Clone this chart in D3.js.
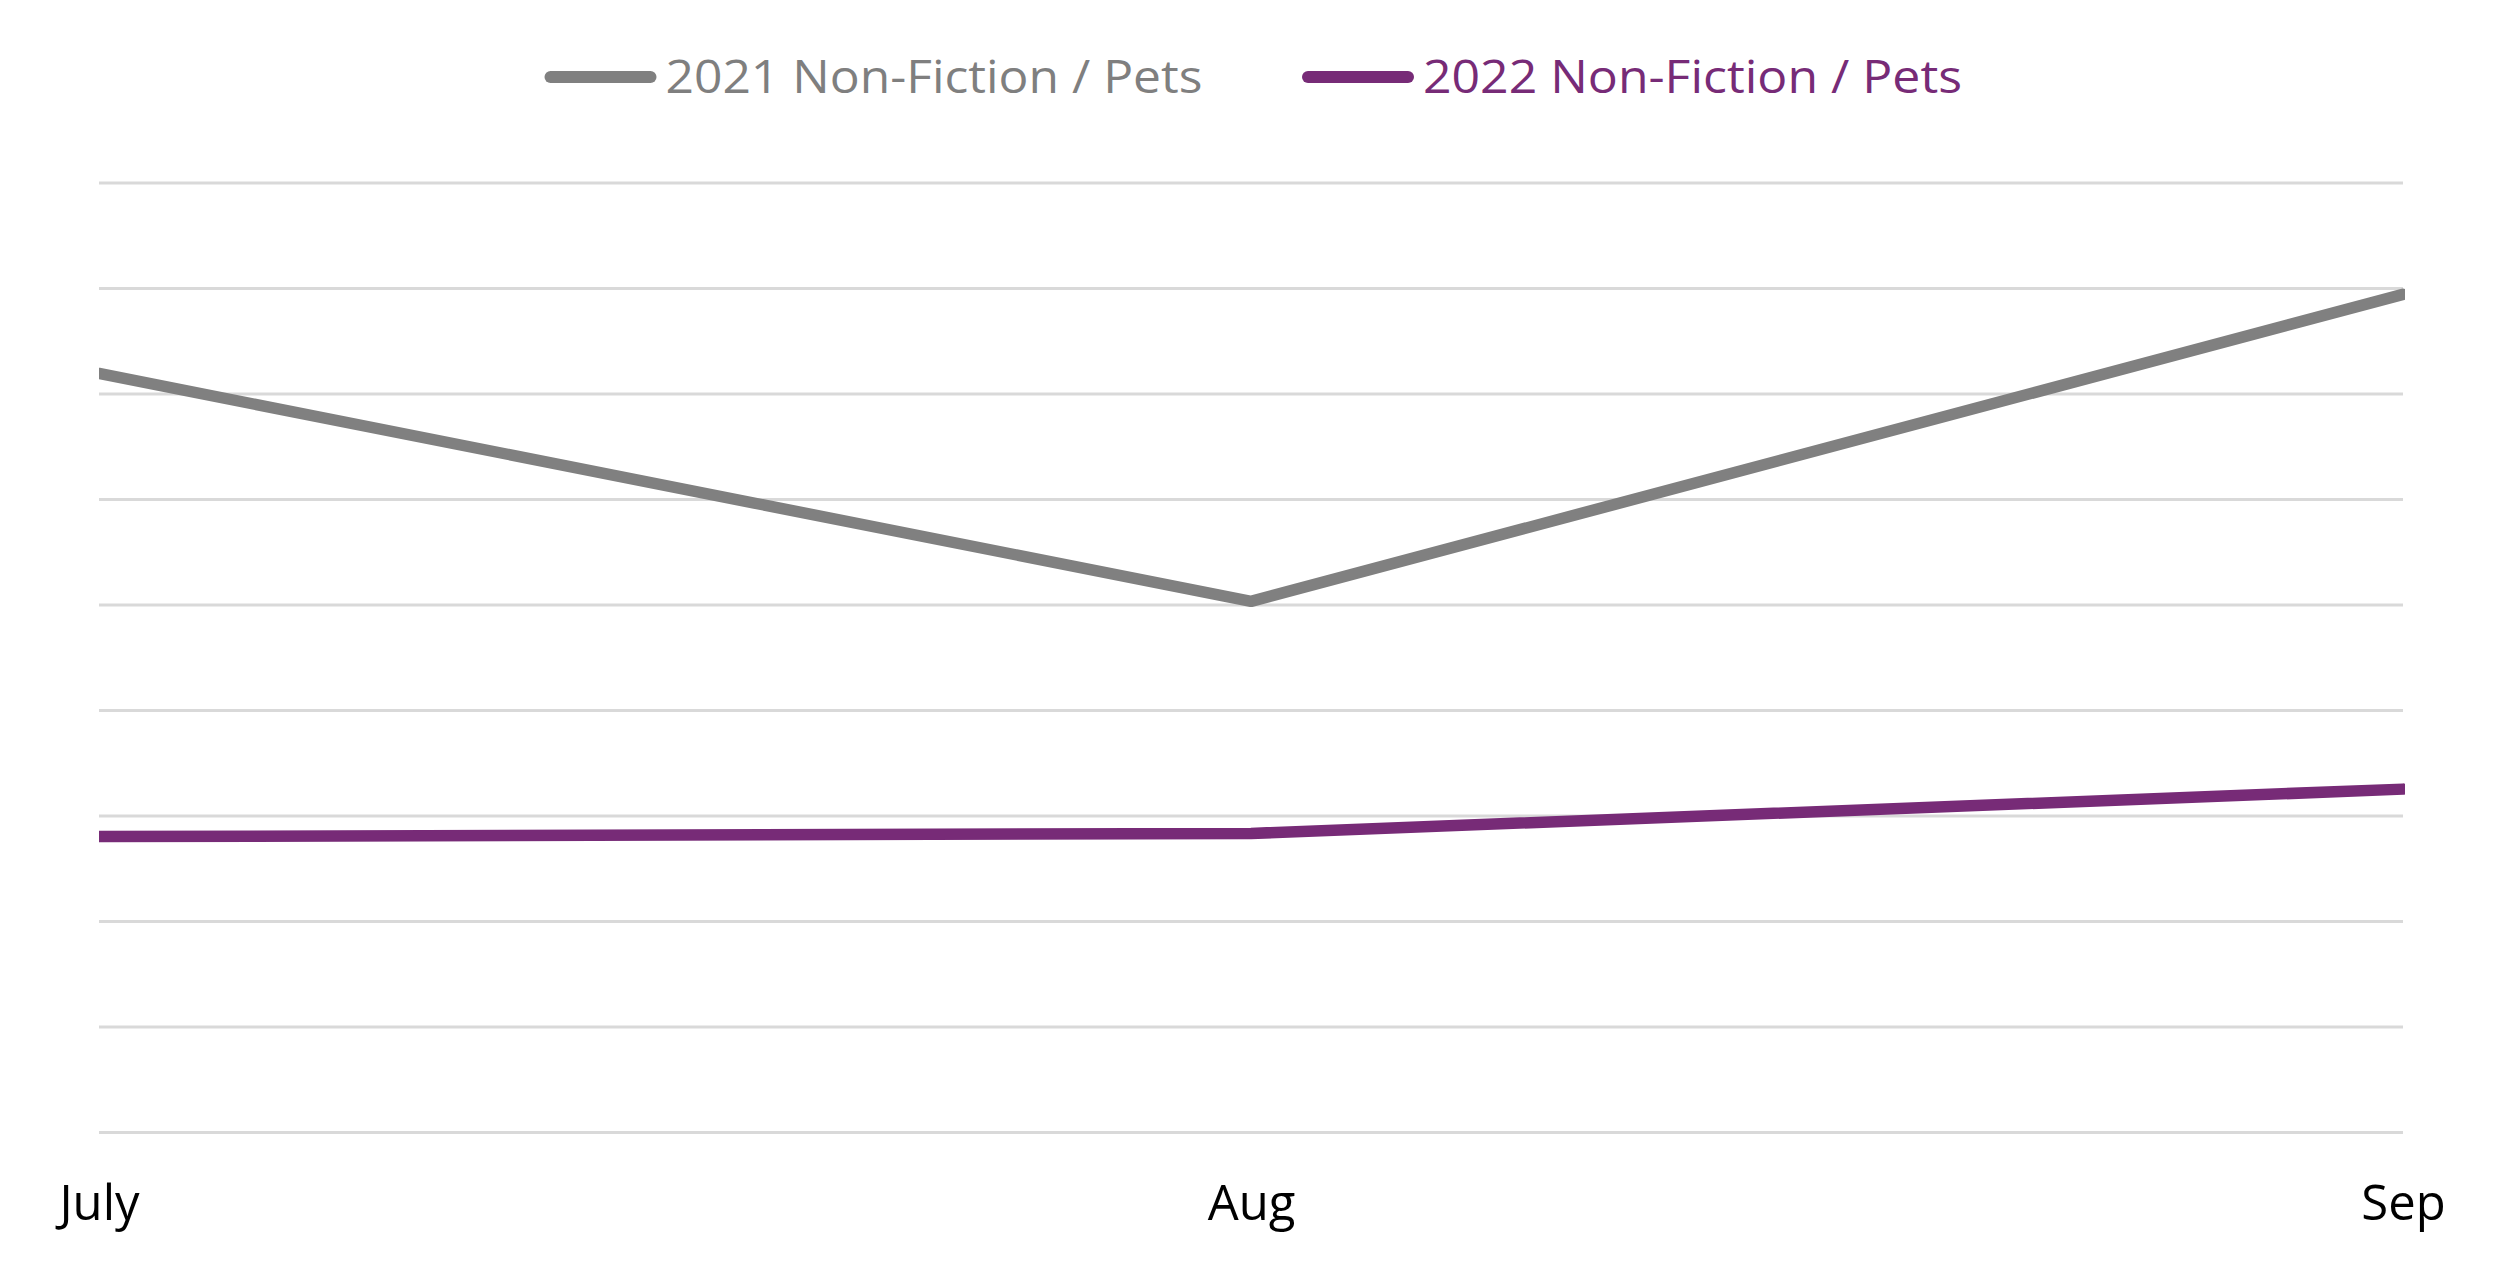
<!DOCTYPE html>
<html>
<head>
<meta charset="utf-8">
<script src="https://cdn.jsdelivr.net/npm/d3@7"></script>
<style>
  html, body { margin: 0; padding: 0; background: #ffffff; }
  svg { display: block; }
</style>
</head>
<body>
<svg id="chart" width="2500" height="1266"></svg>
<script>
// ---- data ----
const months = ["July", "Aug", "Sep"];
const series2021 = [7.19, 5.03, 7.94];
const series2022 = [2.80, 2.83, 3.25];
const seriesNames = ["2021 Non-Fiction / Pets", "2022 Non-Fiction / Pets"];
const gridTicks = [0, 1, 2, 3, 4, 5, 6, 7, 8, 9];

(function () {
  // ---- layout ----
  const W = 2500, H = 1266;
  const plotLeft = 99, plotRight = 2403, plotTop = 182.5, plotBottom = 1132;
  const colors = ["#808080", "#772B77"];
  const FONT = "'Open Sans', 'Noto Sans', sans-serif";

  const svg = d3.select("#chart");

  const x = d3.scalePoint().domain(months).range([plotLeft, plotRight]);
  const y = d3.scaleLinear().domain([0, 9]).range([plotBottom, plotTop]);

  // gridlines
  svg.append("g")
    .attr("transform", `translate(${plotLeft},0)`)
    .call(d3.axisLeft(y).tickValues(gridTicks).tickSize(-(plotRight - plotLeft)).tickFormat(""))
    .call(g => g.select(".domain").remove())
    .call(g => g.selectAll(".tick line").attr("stroke", "#d9d9d9").attr("stroke-width", 3));

  // x axis labels
  const xAxis = svg.append("g")
    .attr("transform", `translate(0,${plotBottom})`)
    .call(d3.axisBottom(x).tickSize(0))
    .call(g => g.select(".domain").remove());
  xAxis.selectAll(".tick text")
    .attr("y", 88)
    .attr("dy", 0)
    .attr("fill", "#000000")
    .style("font-family", FONT)
    .style("font-size", "49px");

  // lines
  const line = d3.line()
    .x((d, i) => x(months[i]))
    .y(d => y(d));

  const allSeries = [series2021, series2022];
  svg.append("defs").append("clipPath").attr("id", "plotclip")
    .append("rect").attr("x", plotLeft).attr("y", 0).attr("width", plotRight - plotLeft + 2).attr("height", H);

  svg.append("g").attr("clip-path", "url(#plotclip)")
    .selectAll("path.series")
    .data(allSeries)
    .join("path")
    .attr("class", "series")
    .attr("d", d => line(d))
    .attr("fill", "none")
    .attr("stroke", (d, i) => colors[i])
    .attr("stroke-width", 11.5)
    .attr("stroke-linejoin", "round")
    .attr("stroke-linecap", "round");

  // legend
  const legendX = [550.5, 1308];
  const legendText = [537, 539];
  const leg = svg.append("g").selectAll("g.leg")
    .data(seriesNames)
    .join("g")
    .attr("class", "leg")
    .attr("transform", (d, i) => `translate(${legendX[i]},77)`);
  leg.append("line")
    .attr("x1", 0).attr("x2", 100)
    .attr("y1", 0).attr("y2", 0)
    .attr("stroke", (d, i) => colors[i])
    .attr("stroke-width", 12)
    .attr("stroke-linecap", "round");
  leg.append("text")
    .attr("x", 115)
    .attr("y", 16)
    .attr("fill", (d, i) => i === 0 ? "#7f7f7f" : colors[1])
    .attr("textLength", (d, i) => legendText[i])
    .attr("lengthAdjust", "spacingAndGlyphs")
    .style("font-family", FONT)
    .style("font-size", "46px")
    .text(d => d);
})();
</script>
</body>
</html>
